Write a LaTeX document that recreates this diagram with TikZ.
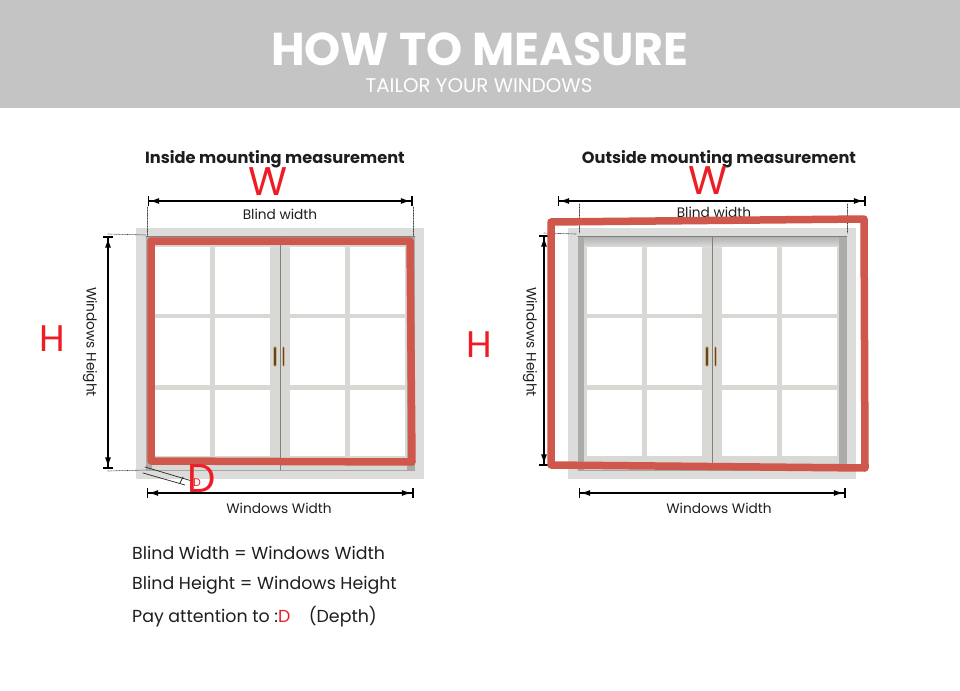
\documentclass[tikz,border=0pt]{standalone}
\usepackage{fontspec}
\setmainfont{Poppins}
\usepackage{xcolor}
\usetikzlibrary{arrows.meta,calc,positioning}
\definecolor{bandgray}{HTML}{C4C4C4}
\definecolor{redline}{HTML}{D0574B}
\definecolor{redtext}{HTML}{EE1C25}
\definecolor{frameout}{HTML}{DCDCDA}
\definecolor{framein}{HTML}{D8D8D4}
\definecolor{frameshade}{HTML}{ABABA7}
\definecolor{handlegold}{HTML}{C9B48A}
\definecolor{handledark}{HTML}{5E4526}
\definecolor{inktext}{HTML}{1E1E1E}
\tikzset{
  titlelbl/.style={font=\fontsize{16.2}{18}\selectfont\bfseries, text=inktext, inner sep=0pt},
  dimlbl/.style={font=\fontsize{13.7}{15}\selectfont, text=inktext, inner sep=0pt},
  noteline/.style={font=\fontsize{17.4}{20}\selectfont, text=inktext, inner sep=0pt, anchor=base west},
  bigred/.style={font=\fontsize{40}{46}\selectfont, text=redtext, inner sep=0pt},
  dimarrow/.style={line width=1.6pt, {Bar[width=10pt,sep=2pt]Latex[length=10pt,width=6pt]}-{Latex[length=10pt,width=6pt]Bar[width=10pt,sep=2pt]}},
  dimdots/.style={line width=0.6pt, densely dotted, black!80},
  redmark/.style={line width=7.5pt, draw=redline, line cap=round, line join=round},
  thinline/.style={line width=0.7pt, black!85},
  every picture/.style={line cap=round, line join=round},
  windowpic/.pic={
    \fill[frameout] (136,228) rectangle (424,479);
    \fill[framein] (146,236) rectangle (415,470);
    \fill[frameshade] (146,236) rectangle (152,470);
    \fill[frameshade] (407,236) rectangle (415,470);
    \shade[top color=black!30, bottom color=frameout] (152,237) rectangle (407,247);
    \fill[frameout] (146,470) rectangle (415,479);
    \draw[black!50, line width=0.8pt] (146,236) -- (415,236);
    \draw[black!35, line width=0.8pt] (146,470) -- (415,470);
    \draw[black!50, line width=0.8pt] (280,237) -- (280,470);
    \foreach \px in {155,215,290,350}
      \foreach \py/\ph in {247/67,318/67,390/66}
        \fill[white] (\px,\py) rectangle ++(55,\ph);
    % handles
    \foreach \hx in {275,283.5} {
      \draw[line width=3.6pt, draw=handlegold] (\hx,348) -- (\hx,365);
      \draw[line width=1.6pt, draw=handledark] (\hx,348) -- (\hx,365);
    }
  }
}

\begin{document}
\begin{tikzpicture}[x=1pt,y=-1pt]
  \useasboundingbox (0,0) rectangle (960,690);
  \fill[white] (0,0) rectangle (960,690);

  % Header
  \fill[bandgray] (0,0) rectangle (960,108);
  \node[font=\fontsize{46}{50}\selectfont\bfseries, text=white, inner sep=0pt] (headline) at (480,49) {HOW TO MEASURE};
  \node[font=\fontsize{19.8}{23}\selectfont, text=white, inner sep=0pt] (subline) at (479,86) {TAILOR YOUR WINDOWS};

  % Inside mounting
  \pic at (0,0) {windowpic};
  \node[titlelbl] (intitle) at (275,159.5) {Inside mounting measurement};
  \node[bigred] (inW) at (268,182) {W};
  \node[dimlbl] (inblind) at (280,214.5) {Blind width};
  \node[dimlbl, rotate=-90] (inheight) at (90,342) {Windows Height};
  \node[dimlbl] (inwidth) at (279,508.5) {Windows Width};
  \node[bigred, font=\fontsize{37}{42}\selectfont] (inH) at (52,339) {H};
  \coordinate (inBL) at (145.5,201);
  \coordinate (inBR) at (414.5,201);
  \coordinate (inBLa) at (147,207);
  \coordinate (inBLb) at (147,236);
  \coordinate (inBRa) at (413,207);
  \coordinate (inBRb) at (413,236);
  \coordinate (inHT) at (108,234);
  \coordinate (inHB) at (108,471);
  \coordinate (inHTa) at (146,235);
  \coordinate (inHBa) at (146,470);
  \coordinate (inWL) at (144.5,493);
  \coordinate (inWR) at (415.5,493);
  \draw[dimarrow] (inBL) -- (inBR);
  \draw[dimarrow] (inHT) -- (inHB);
  \draw[dimarrow] (inWL) -- (inWR);
  \draw[dimdots] (inBLa) -- (inBLb);
  \draw[dimdots] (inBRa) -- (inBRb);
  \draw[dimdots] (inHT) -- (inHTa);
  \draw[dimdots] (inHB) -- (inHBa);
  \coordinate (rA) at (151,241);
  \coordinate (rB) at (410,241);
  \coordinate (rC) at (412,462);
  \coordinate (rD) at (151,461);
  \draw[redmark] (rA) -- (rB) -- (rC) -- (rD) -- cycle;

  % Depth mark
  \coordinate (dA) at (145,467);
  \coordinate (dB) at (192,481);
  \coordinate (dC) at (143,473);
  \coordinate (dD) at (185,485);
  \coordinate (dE) at (180,483);
  \coordinate (dF) at (183,477);
  \draw[thinline] (dA) -- (dB);
  \draw[thinline] (dC) -- (dD);
  \draw[thinline] (dE) -- (dF);
  \node[font=\fontsize{11}{12}\selectfont, text=redtext, inner sep=0pt] (smallD) at (197,483) {D};
  \node[font=\fontsize{40}{44}\selectfont, text=redtext, inner sep=0pt] (bigD) at (202,479) {D};

  % Outside mounting
  \pic at (432,0) {windowpic};
  \node[titlelbl] (outtitle) at (719,159.5) {Outside mounting measurement};
  \node[bigred] (outW) at (708,181) {W};
  \node[dimlbl] (outblind) at (714,212.5) {Blind width};
  \node[dimlbl, rotate=-90] (outheight) at (530,342) {Windows Height};
  \node[dimlbl] (outwidth) at (719,508.5) {Windows Width};
  \node[bigred, font=\fontsize{37}{42}\selectfont] (outH) at (479,345) {H};
  \coordinate (outBL) at (555.5,201);
  \coordinate (outBR) at (867.5,201);
  \coordinate (outBLa) at (579,204);
  \coordinate (outBLb) at (579,233);
  \coordinate (outBRa) at (847,204);
  \coordinate (outBRb) at (847,233);
  \coordinate (outHT) at (544,233);
  \coordinate (outHB) at (544,468);
  \coordinate (outHTa) at (576,234);
  \coordinate (outWL) at (576.5,493);
  \coordinate (outWR) at (847.5,493);
  \draw[dimarrow] (outBL) -- (outBR);
  \draw[dimarrow] (outHT) -- (outHB);
  \draw[dimarrow] (outWL) -- (outWR);
  \draw[dimdots] (outBLa) -- (outBLb);
  \draw[dimdots] (outBRa) -- (outBRb);
  \draw[dimdots] (outHT) -- (outHTa);
  \coordinate (sA) at (864,219);
  \coordinate (sB) at (551,222);
  \coordinate (sC) at (551,465);
  \coordinate (sD) at (865,468);
  \draw[redmark] (sA) -- (sB) -- (sC) -- (sD) -- cycle;

  % Notes
  \node[noteline] (noteA) at (132,559) {Blind Width = Windows Width};
  \node[noteline] (noteB) at (132,589) {Blind Height = Windows Height};
  \node[noteline] (noteC) at (132,622) {Pay attention to :\textcolor{redtext}{D}\hspace{1.05em}(Depth)};
\end{tikzpicture}
\end{document}
